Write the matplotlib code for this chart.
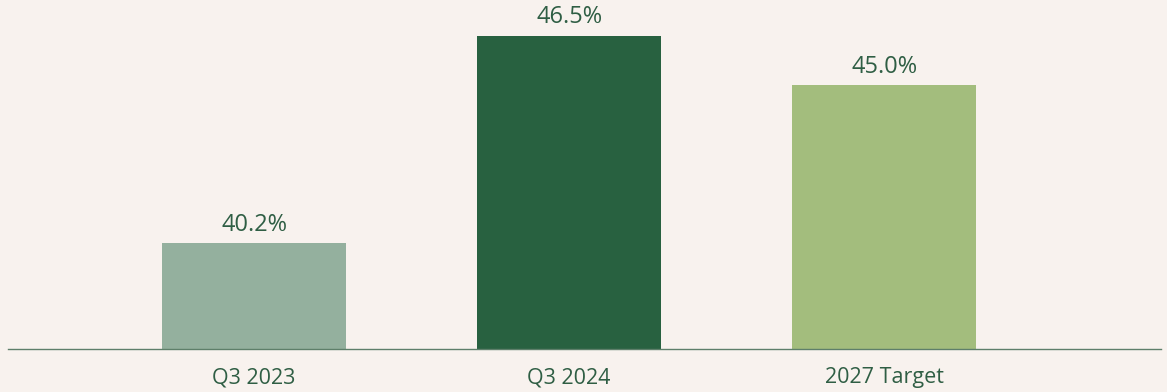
import matplotlib
matplotlib.use("Agg")
import matplotlib.pyplot as plt

categories = ["Q3 2023", "Q3 2024", "2027 Target"]
values = [40.2, 46.5, 45.0]
labels = ["40.2%", "46.5%", "45.0%"]
colors = ["#94B09E", "#286140", "#A3BD7D"]

bg = "#F8F2EE"
txt = "#2F5E44"
plt.rcParams['font.family'] = ['Open Sans', 'DejaVu Sans']

fig = plt.figure(figsize=(11.67, 3.92), dpi=100, facecolor=bg)
ax = fig.add_axes([8/1167, 43/392, (1161-8)/1167, 349/392])
ax.set_facecolor(bg)
x = list(range(len(categories)))
ax.bar(x, values, width=0.584, color=colors, bottom=0)
ax.set_ylim(37, 47.58)
ax.set_xlim(-0.781, 2.879)
for xi, v, l in zip(x, values, labels):
    ax.annotate(l, (xi, v), xytext=(0, 4.5), textcoords="offset points",
                ha="center", va="bottom", fontsize=17, color=txt)
ax.set_xticks(x)
ax.set_xticklabels(categories, fontsize=15.5, color=txt)
ax.tick_params(axis="x", length=0, pad=13)
ax.set_yticks([])
for s in ["top", "right", "left"]:
    ax.spines[s].set_visible(False)
ax.spines["bottom"].set_color("#5E7F6A")
ax.spines["bottom"].set_linewidth(1.0)
fig.savefig("out.png", dpi=100, facecolor=bg)
